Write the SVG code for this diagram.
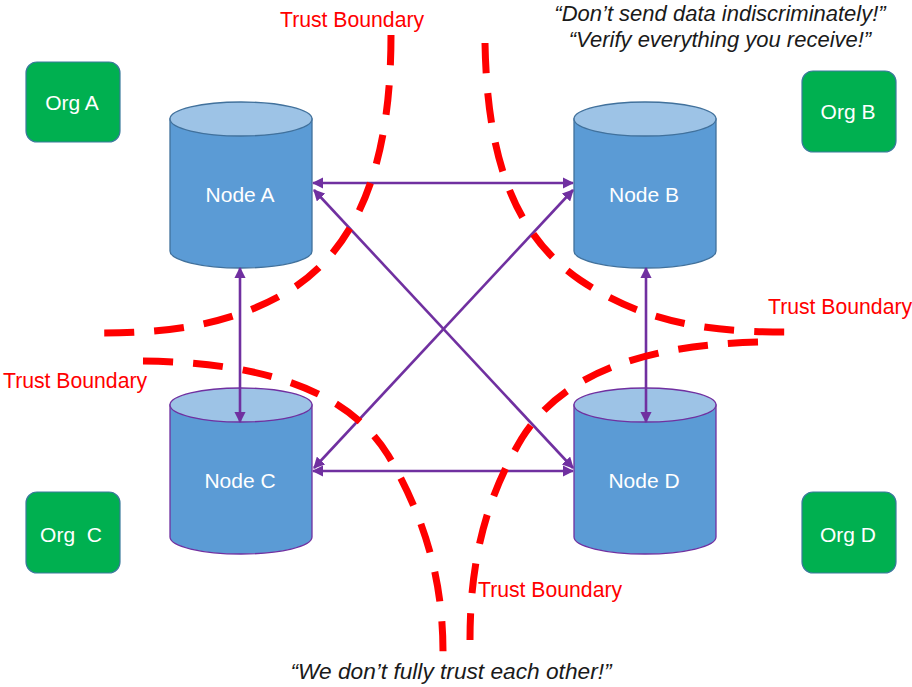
<svg xmlns="http://www.w3.org/2000/svg" width="912" height="687" viewBox="0 0 912 687">
<style>
.org{fill:#00B050;stroke:#3A7A9C;stroke-width:1.2}
.body{fill:#5B9BD5}
.top{fill:#9DC3E6}
.sb{stroke:#41719C;stroke-width:1.3}
.sp{stroke:#7030A0;stroke-width:1.3}
.lbl{font-family:"Liberation Sans",Arial,sans-serif;font-size:21px;fill:#fff;text-anchor:middle}
.tb{font-family:"Liberation Sans",Arial,sans-serif;font-size:21.2px;fill:#FF0000}
.q{font-family:"Liberation Sans",Arial,sans-serif;font-size:22px;font-style:italic;fill:#1a1a1a;text-anchor:middle}
.conn{stroke:#7030A0;stroke-width:2.6;fill:none;marker-start:url(#ah);marker-end:url(#ah)}
.dash{stroke:#FF0000;stroke-width:7;fill:none;stroke-dasharray:30 20}
</style>
<defs>
<marker id="ah" viewBox="0 0 10 10" refX="9" refY="5" markerWidth="4.4" markerHeight="4.4" orient="auto-start-reverse" markerUnits="strokeWidth">
<path d="M0,0 L10,5 L0,10 Z" fill="#7030A0"/>
</marker>
</defs>
<rect width="912" height="687" fill="#fff"/>
<g id="orgA"><rect class="org" x="26" y="62" width="94" height="80" rx="11"/><text class="lbl" x="72" y="110">Org A</text></g>
<g id="orgB"><rect class="org" x="802" y="71" width="94" height="81" rx="11"/><text class="lbl" x="848" y="119">Org B</text></g>
<g id="orgC"><rect class="org" x="26" y="492" width="94" height="81" rx="11"/><text class="lbl" x="71" y="542" xml:space="preserve">Org  C</text></g>
<g id="orgD"><rect class="org" x="802" y="492" width="94" height="81" rx="11"/><text class="lbl" x="848" y="542">Org D</text></g>
<g id="nodeA"><path class="body sb" d="M170,119 L170,251 A71,17 0 0 0 312,251 L312,119 Z"/><ellipse class="top sb" cx="241" cy="119" rx="71" ry="17"/><text class="lbl" x="240" y="202">Node A</text></g>
<g id="nodeB"><path class="body sb" d="M574,119 L574,251 A71,17 0 0 0 716,251 L716,119 Z"/><ellipse class="top sb" cx="645" cy="119" rx="71" ry="17"/><text class="lbl" x="644" y="202">Node B</text></g>
<g id="nodeC"><path class="body sp" d="M170,405 L170,537 A71,17 0 0 0 312,537 L312,405 Z"/><ellipse class="top sp" cx="241" cy="405" rx="71" ry="17"/><text class="lbl" x="240" y="488">Node C</text></g>
<g id="nodeD"><path class="body sp" d="M574,405 L574,537 A71,17 0 0 0 716,537 L716,405 Z"/><ellipse class="top sp" cx="645" cy="405" rx="71" ry="17"/><text class="lbl" x="644" y="488">Node D</text></g>
<g id="connectors">
<line class="conn" x1="313" y1="183" x2="573" y2="183"/>
<line class="conn" x1="313" y1="471" x2="573" y2="471"/>
<line class="conn" x1="314" y1="190" x2="573" y2="468"/>
<line class="conn" x1="573" y1="190" x2="314" y2="468"/>
<line class="conn" x1="240" y1="268" x2="240" y2="422"/>
<line class="conn" x1="646" y1="268" x2="646" y2="422"/>
</g>
<g id="boundaries">
<path class="dash" d="M391,35 C391,150 365,240 295,287 C240,322 180,333 100,333"/>
<path class="dash" d="M485,43 C487,150 510,232 580,280 C640,320 700,332 785,332"/>
<path class="dash" d="M143,361 C250,362 345,385 388,455 C425,518 443,580 443,652"/>
<path class="dash" d="M758,342 C650,345 565,370 522,438 C486,498 470,560 470,640"/>
</g>
<g id="labels">
<text class="tb" x="280" y="27">Trust Boundary</text>
<text class="tb" x="3" y="388">Trust Boundary</text>
<text class="tb" x="768" y="314">Trust Boundary</text>
<text class="tb" x="478" y="597">Trust Boundary</text>
<text class="q" x="720" y="21">“Don’t send data indiscriminately!”</text>
<text class="q" x="720" y="47">“Verify everything you receive!”</text>
<text class="q" x="451" y="679" style="font-size:22.7px">“We don’t fully trust each other!”</text>
</g>
</svg>
